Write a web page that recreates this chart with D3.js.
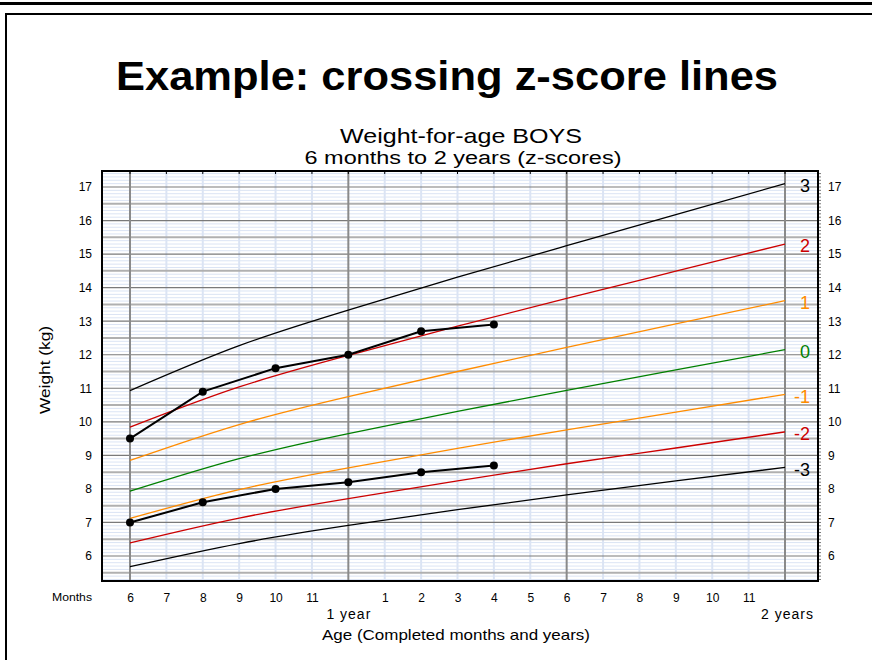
<!DOCTYPE html>
<html>
<head>
<meta charset="utf-8">
<script src="https://cdn.jsdelivr.net/npm/d3@7"></script>
<style>
	body { margin: 0; background: #fff; }
	svg { display: block; font-family: 'Liberation Sans', Arial, sans-serif; }
</style>
</head>
<body>
<div id="chart"></div>
<script>
// weight-for-age boys z-score curves, every 3 months (kg)
const ages = [6, 9, 12, 15, 18, 21, 24]
const sdNeg3 = [5.68, 6.37, 6.91, 7.38, 7.82, 8.24, 8.64]
const sdNeg2 = [6.39, 7.13, 7.71, 8.24, 8.75, 9.22, 9.70]
const sdNeg1 = [7.12, 7.98, 8.63, 9.21, 9.76, 10.29, 10.82]
const sd0 = [7.93, 8.90, 9.65, 10.31, 10.94, 11.55, 12.15]
const sd1 = [8.85, 9.92, 10.75, 11.50, 12.22, 12.92, 13.61]
const sd2 = [9.84, 11.04, 11.98, 12.85, 13.68, 14.49, 15.30]
const sd3 = [10.93, 12.27, 13.33, 14.31, 15.25, 16.18, 17.10]

// the two children plotted
const visitAges = [6, 8, 10, 12, 14, 16]
const childA = [9.5, 10.9, 11.6, 12.0, 12.7, 12.9]
const childB = [7.0, 7.6, 8.0, 8.2, 8.5, 8.7]

const zLabels = ['3', '2', '1', '0', '-1', '-2', '-3']
const weightTicks = [6, 7, 8, 9, 10, 11, 12, 13, 14, 15, 16, 17]
const monthTicks = d3.range(6, 25)
const monthLabels = ['6', '7', '8', '9', '10', '11', '', '1', '2', '3', '4', '5', '6', '7', '8', '9', '10', '11', '']
const yearTicks = [12, 24]
const yearLabels = ['1 year', '2 years']

const zColors = ['#000000', '#cc0000', '#ff8c00', '#008000', '#ff8c00', '#cc0000', '#000000']
const zSeries = [sd3, sd2, sd1, sd0, sdNeg1, sdNeg2, sdNeg3]

const width = 872
const height = 660
const plot = { left: 102, right: 818, top: 171, bottom: 581 }

const svg = d3
	.select('#chart')
	.append('svg')
	.attr('width', width)
	.attr('height', height)

// slide frame
svg.append('line')
	.attr('x1', 0).attr('x2', width)
	.attr('y1', 3.5).attr('y2', 3.5)
	.attr('stroke', '#000').attr('stroke-width', 3)
svg.append('rect')
	.attr('x', 6).attr('y', 14)
	.attr('width', width + 20).attr('height', height)
	.attr('fill', 'none').attr('stroke', '#000').attr('stroke-width', 2)

svg.append('text')
	.attr('x', 447).attr('y', 90)
	.attr('text-anchor', 'middle')
	.attr('font-size', 40).attr('font-weight', 'bold')
	.attr('textLength', 662).attr('lengthAdjust', 'spacingAndGlyphs')
	.text('Example: crossing z-score lines')

const x = d3.scaleLinear().domain([6, 24]).range([130, 785])
const y = d3.scaleLinear().domain([6, 17]).range([556, 187])

const grid = svg.append('g')

// fine 0.1 kg lines
const fine = d3.range(53, 175).filter(v => v % 5 !== 0).map(v => v / 10)
grid.selectAll('.fine')
	.data(fine)
	.enter()
	.append('line')
	.attr('x1', plot.left).attr('x2', plot.right)
	.attr('y1', d => y(d)).attr('y2', d => y(d))
	.attr('stroke', '#dbe4f4').attr('stroke-width', 1)

// month verticals
grid.selectAll('.month')
	.data(monthTicks.filter(m => m % 6 !== 0))
	.enter()
	.append('line')
	.attr('x1', d => x(d)).attr('x2', d => x(d))
	.attr('y1', plot.top).attr('y2', plot.bottom)
	.attr('stroke', '#dbe4f4').attr('stroke-width', 2)

// half kg lines
grid.selectAll('.half')
	.data(d3.range(55, 175, 10).map(v => v / 10))
	.enter()
	.append('line')
	.attr('x1', plot.left).attr('x2', plot.right)
	.attr('y1', d => y(d)).attr('y2', d => y(d))
	.attr('stroke', '#b0b0b0').attr('stroke-width', 2)

// whole kg lines
grid.selectAll('.whole')
	.data(weightTicks)
	.enter()
	.append('line')
	.attr('x1', plot.left).attr('x2', plot.right)
	.attr('y1', d => y(d)).attr('y2', d => y(d))
	.attr('stroke', '#7a7a7a').attr('stroke-width', 1.2)

// half-year verticals
grid.selectAll('.half-year')
	.data(monthTicks.filter(m => m % 6 === 0))
	.enter()
	.append('line')
	.attr('x1', d => x(d)).attr('x2', d => x(d))
	.attr('y1', plot.top).attr('y2', plot.bottom)
	.attr('stroke', '#8a8a8a').attr('stroke-width', 2)

// small ticks on top and right borders
grid.selectAll('.top-tick')
	.data(monthTicks)
	.enter()
	.append('line')
	.attr('x1', d => x(d)).attr('x2', d => x(d))
	.attr('y1', plot.top).attr('y2', plot.top + 3)
	.attr('stroke', '#000')
grid.selectAll('.right-tick')
	.data(d3.range(53, 175).map(v => v / 10))
	.enter()
	.append('line')
	.attr('x1', plot.right).attr('x2', plot.right + 3)
	.attr('y1', d => y(d)).attr('y2', d => y(d))
	.attr('stroke', '#555').attr('stroke-width', 0.8)

svg.append('rect')
	.attr('x', plot.left).attr('y', plot.top)
	.attr('width', plot.right - plot.left).attr('height', plot.bottom - plot.top)
	.attr('fill', 'none').attr('stroke', '#000').attr('stroke-width', 2)

// z-score curves
const line = d3
	.line()
	.x((d, i) => x(ages[i]))
	.y(d => y(d))
	.curve(d3.curveNatural)

svg.selectAll('.zline')
	.data(zSeries)
	.enter()
	.append('path')
	.attr('d', d => line(d))
	.attr('fill', 'none')
	.attr('stroke', (d, i) => zColors[i])
	.attr('stroke-width', 1.3)

svg.selectAll('.zlabel')
	.data(zSeries)
	.enter()
	.append('text')
	.attr('x', 810)
	.attr('y', d => y(d[d.length - 1]) + 2)
	.attr('dy', '0.35em')
	.attr('text-anchor', 'end')
	.attr('font-size', 18)
	.attr('fill', (d, i) => zColors[i])
	.text((d, i) => zLabels[i])

// children
const childLine = d3
	.line()
	.x((d, i) => x(visitAges[i]))
	.y(d => y(d))

;[childA, childB].forEach(child => {
	svg.append('path')
		.attr('d', childLine(child))
		.attr('fill', 'none')
		.attr('stroke', '#000')
		.attr('stroke-width', 2)
	svg.selectAll(null)
		.data(child)
		.enter()
		.append('circle')
		.attr('cx', (d, i) => x(visitAges[i]))
		.attr('cy', d => y(d))
		.attr('r', 4)
		.attr('fill', '#000')
})

// axes
const leftAxis = svg.append('g')
	.attr('transform', `translate(${plot.left},0)`)
	.call(d3.axisLeft(y).tickValues(weightTicks).tickSize(0).tickPadding(10).tickFormat(d3.format('d')))
const rightAxis = svg.append('g')
	.attr('transform', `translate(${plot.right},0)`)
	.call(d3.axisRight(y).tickValues(weightTicks).tickSize(0).tickPadding(10).tickFormat(d3.format('d')))
const bottomAxis = svg.append('g')
	.attr('transform', `translate(0,${plot.bottom})`)
	.call(d3.axisBottom(x).tickValues(monthTicks).tickSize(0).tickPadding(12).tickFormat((d, i) => monthLabels[i]))
const yearAxis = svg.append('g')
	.attr('transform', `translate(0,${plot.bottom + 22})`)
	.call(d3.axisBottom(x).tickValues(yearTicks).tickSize(0).tickPadding(6).tickFormat((d, i) => yearLabels[i]))

;[leftAxis, rightAxis, bottomAxis, yearAxis].forEach(g => {
	g.select('.domain').remove()
	g.selectAll('text').attr('fill', '#000').attr('font-family', 'Liberation Sans, Arial, sans-serif')
})
leftAxis.selectAll('text').attr('font-size', 12)
rightAxis.selectAll('text').attr('font-size', 12)
bottomAxis.selectAll('text').attr('font-size', 12)
yearAxis.selectAll('text').attr('font-size', 14).attr('letter-spacing', 1)
yearAxis.selectAll('.tick').filter(d => d === 24).select('text').attr('dx', 2)

svg.append('text')
	.attr('x', 72).attr('y', plot.bottom + 20)
	.attr('text-anchor', 'middle')
	.attr('font-size', 11)
	.attr('textLength', 40).attr('lengthAdjust', 'spacingAndGlyphs')
	.text('Months')

// titles
svg.append('text')
	.attr('x', 461).attr('y', 143)
	.attr('text-anchor', 'middle')
	.attr('font-size', 21)
	.attr('textLength', 242).attr('lengthAdjust', 'spacingAndGlyphs')
	.text('Weight-for-age BOYS')
svg.append('text')
	.attr('x', 463).attr('y', 164)
	.attr('text-anchor', 'middle')
	.attr('font-size', 18)
	.attr('textLength', 317).attr('lengthAdjust', 'spacingAndGlyphs')
	.text('6 months to 2 years (z-scores)')
svg.append('text')
	.attr('x', 456).attr('y', 640)
	.attr('text-anchor', 'middle')
	.attr('font-size', 15)
	.attr('textLength', 268).attr('lengthAdjust', 'spacingAndGlyphs')
	.text('Age (Completed months and years)')
svg.append('text')
	.attr('transform', 'translate(50,370) rotate(-90)')
	.attr('text-anchor', 'middle')
	.attr('font-size', 15)
	.attr('textLength', 88).attr('lengthAdjust', 'spacingAndGlyphs')
	.text('Weight (kg)')
</script>
</body>
</html>
